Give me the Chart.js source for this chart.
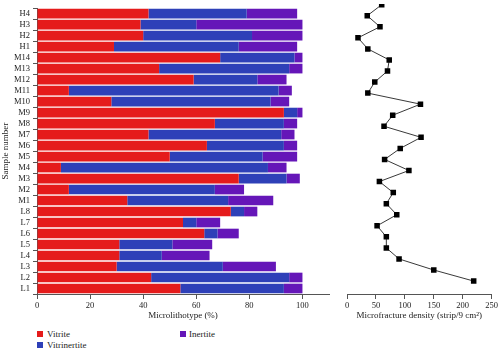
<!DOCTYPE html>
<html>
<head>
<meta charset="utf-8">
<script src="https://cdn.jsdelivr.net/npm/chart.js@4"></script>
<style>
  body { margin: 0; background: #fff; width: 500px; height: 349px; position: relative; overflow: hidden; font-family: "Liberation Serif", serif; color: #222; }
  #barWrap { position: absolute; left: 0; top: 0; width: 335px; height: 321px; }
  #lineWrap { position: absolute; left: 335px; top: 0; width: 165px; height: 321px; }
  .leg { position: absolute; font-size: 9px; line-height: 10px; }
  .leg i { position: absolute; left: -10px; top: 2px; width: 6px; height: 6px; }
</style>
</head>
<body>
<div id="barWrap"><canvas id="bars"></canvas></div>
<div id="lineWrap"><canvas id="density"></canvas></div>
<div class="leg" style="left:47px; top:329px"><i style="background:#e51b1b"></i>Vitrite</div>
<div class="leg" style="left:47px; top:340px"><i style="background:#2e40b8"></i>Vitrinertite</div>
<div class="leg" style="left:189px; top:329px"><i style="background:#6516b8; left:-9px"></i>Inertite</div>
<script>
  // samples from bottom (L1) to top (H4)
  const samples = ['L1','L2','L3','L4','L5','L6','L7','L8',
    'M1','M2','M3','M4','M5','M6','M7','M8','M9','M10','M11','M12','M13','M14',
    'H1','H2','H3','H4'];
  const vitrite = [54,43,30,31,31,63,55,73,
    34,12,76,9,50,64,42,67,93,28,12,59,46,69,
    29,40,39,42];
  const vitrinertite = [39,52,40,16,20,5,5,5,
    38,55,18,78,35,29,50,26,5,60,79,24,49,28,
    47,41,21,37];
  const inertite = [7,5,20,18,15,8,9,5,
    17,11,5,7,13,5,5,5,2,7,5,11,5,3,
    22,19,40,19];
  const density = [219,150,90,68,68,52,86,68,
    80,56,107,65,92,128,64,79,127,36,48,70,73,36,
    19,57,35,60];

  const font = { family: '"Liberation Serif", serif', size: 8.5 };
  const titleFont = { family: '"Liberation Serif", serif', size: 9 };
  Chart.defaults.color = '#222';
  Chart.defaults.animation = false;

  new Chart(document.getElementById('bars'), {
    type: 'bar',
    data: {
      labels: samples,
      datasets: [
        { label: 'Vitrite', data: vitrite, backgroundColor: '#e51b1b' },
        { label: 'Vitrinertite', data: vitrinertite, backgroundColor: '#2e40b8' },
        { label: 'Inertite', data: inertite, backgroundColor: '#6516b8' }
      ]
    },
    options: {
      indexAxis: 'y',
      responsive: true,
      maintainAspectRatio: false,
      layout: { padding: { top: 2, right: 6, bottom: 0, left: 0 } },
      datasets: { bar: { barPercentage: 0.88, categoryPercentage: 1 } },
      plugins: { legend: { display: false }, tooltip: { enabled: false } },
      scales: {
        x: {
          stacked: true, min: 0, max: 110,
          ticks: { stepSize: 20, font: font, padding: 2, maxRotation: 0 },
          afterBuildTicks: (axis) => { axis.ticks = axis.ticks.filter(t => t.value <= 100); },
          afterFit: (axis) => { axis.height = 27; },
          grid: { drawOnChartArea: false, tickLength: 5, color: '#555' },
          border: { color: '#555' },
          title: { display: true, text: 'Microlithotype (%)', font: titleFont, padding: { top: 2, bottom: 0 } }
        },
        y: {
          stacked: true, reverse: true,
          ticks: { font: font, padding: 3, autoSkip: false },
          afterFit: (axis) => { axis.width = 37; },
          grid: { drawOnChartArea: false, tickLength: 4, color: '#555' },
          border: { color: '#555' },
          title: { display: true, text: 'Sample number', font: titleFont, padding: { top: 0, bottom: 0 } }
        }
      }
    }
  });

  new Chart(document.getElementById('density'), {
    type: 'line',
    data: {
      datasets: [{
        data: samples.map((s, i) => ({ x: density[i], y: i + 1 })),
        borderColor: '#222',
        borderWidth: 0.9,
        backgroundColor: '#000',
        pointStyle: 'rect',
        pointRadius: 3.9,
        pointBorderWidth: 0,
        tension: 0
      }]
    },
    options: {
      responsive: true,
      maintainAspectRatio: false,
      layout: { padding: { top: 2, right: 6, bottom: 0, left: 12 } },
      plugins: { legend: { display: false }, tooltip: { enabled: false } },
      scales: {
        x: {
          type: 'linear', min: 0, max: 250,
          ticks: { stepSize: 50, font: font, padding: 2, maxRotation: 0 },
          afterFit: (axis) => { axis.height = 27; },
          grid: { drawOnChartArea: false, tickLength: 5, color: '#555' },
          border: { color: '#555' },
          title: { display: true, text: 'Microfracture density (strip/9 cm²)', font: titleFont, padding: { top: 2, bottom: 0 } }
        },
        y: { type: 'linear', min: -0.17, max: 26.06, display: false }
      }
    }
  });
</script>
</body>
</html>
